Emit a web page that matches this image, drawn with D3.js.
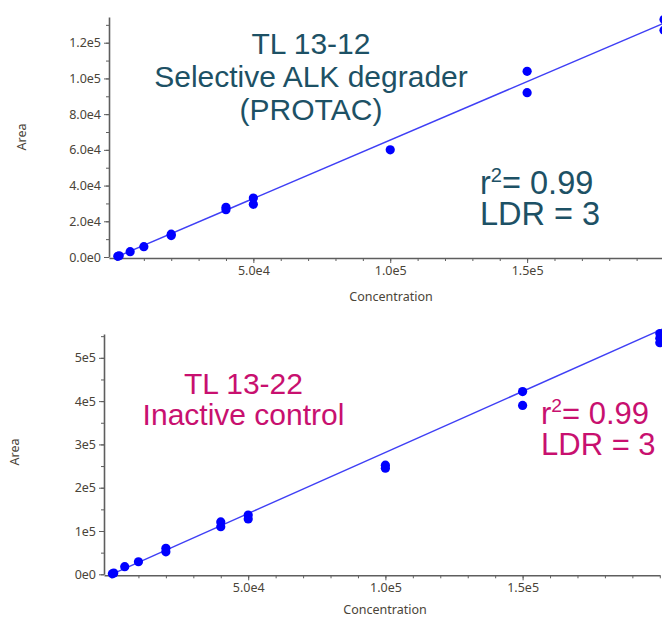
<!DOCTYPE html>
<html>
<head>
<meta charset="utf-8">
<script src="https://cdn.jsdelivr.net/npm/d3@7"></script>
<style>
  body { margin: 0; background: #fff; }
  svg { display: block; }
  .axis text { font-family: "Noto Sans", "Open Sans", sans-serif; font-size: 12.5px; fill: #4a4438; }
  .axis path, .axis line { stroke: #5e5e5e; }
  .axis-label { font-family: "Noto Sans", "Open Sans", sans-serif; font-size: 12.5px; fill: #4a4438; }
  .note { font-family: "Liberation Sans", Arial, sans-serif; }
</style>
</head>
<body>
<svg id="chart"></svg>
<script>
const chartSize = { width: 662, height: 619 };

// top panel: TL 13-12
const topConc = [500, 1000, 5000, 10000, 20000, 20000, 40000, 40000, 50000, 50000, 100000, 150000, 150000, 200000, 200000];
const topArea = [400, 700, 3000, 5800, 12000, 12800, 26500, 27800, 29500, 33000, 60000, 92000, 104000, 127000, 133000];
const topFit = [0.655, 0];
const topYTicks = [0, 20000, 40000, 60000, 80000, 100000, 120000];

// bottom panel: TL 13-22
const botConc = [500, 1000, 5000, 10000, 20000, 20000, 40000, 40000, 50000, 50000, 100000, 100000, 150000, 150000, 200000, 200000, 200000];
const botArea = [1000, 3000, 17500, 29000, 52000, 60000, 110000, 121000, 128000, 137000, 245000, 252000, 390000, 422000, 535000, 545000, 556000];
const botFit = [2.82, -500];
const botYTicks = [0, 100000, 200000, 300000, 400000, 500000];

const xTicks = [50000, 100000, 150000];

const expFormat = p => d => d3.format(`.${p}e`)(d).replace("e+", "e");

const panels = [
  {
    conc: topConc, area: topArea, fit: topFit,
    xDomain: [-2727, 200000], xRange: [109, 664],
    yDomain: [0, 134400], yRange: [257, 17],
    yTicks: topYTicks, yMinorStep: 10000, yFormat: expFormat(1),
    yLabel: [26, 137], xLabel: [391, 301],
    color: "#1d5165",
    title: ["TL 13-12", "Selective ALK degrader", "(PROTAC)"], titlePos: [311, 54, 33],
    stats: [480, 194, 31], statSize: 32.5
  },
  {
    conc: botConc, area: botArea, fit: botFit,
    xDomain: [-2550, 200000], xRange: [104, 659.8],
    yDomain: [0, 555000], yRange: [574.3, 334],
    yTicks: botYTicks, yMinorStep: 50000, yFormat: expFormat(0),
    yLabel: [19, 452], xLabel: [385, 614],
    color: "#c8106f",
    title: ["TL 13-22", "Inactive control"], titlePos: [243.5, 394, 31],
    stats: [541, 424, 31], statSize: 31
  }
];

const drawPanel = (svg, p) => {
  const x = d3.scaleLinear().domain(p.xDomain).range(p.xRange);
  const y = d3.scaleLinear().domain(p.yDomain).range(p.yRange);
  const g = svg.append("g");

  const xMinor = d3.range(0, p.xDomain[1] + 1, 10000);
  g.append("g")
    .attr("class", "axis")
    .attr("transform", `translate(0,${p.yRange[0] + 1})`)
    .call(d3.axisBottom(x).tickValues(xMinor).tickSize(3).tickSizeOuter(0).tickFormat(""))
    .call(a => a.select(".domain").attr("stroke-width", 1.6));
  g.append("g")
    .attr("class", "axis")
    .attr("transform", `translate(0,${p.yRange[0] + 1})`)
    .call(d3.axisBottom(x).tickValues(xTicks).tickSize(5).tickPadding(3).tickFormat(expFormat(1)))
    .call(a => a.select(".domain").remove());

  const yMinor = d3.range(0, p.yDomain[1], p.yMinorStep);
  g.append("g")
    .attr("class", "axis")
    .attr("transform", `translate(${p.xRange[0]},0)`)
    .call(d3.axisLeft(y).tickValues(yMinor).tickSize(3).tickSizeOuter(0).tickFormat(""))
    .call(a => a.select(".domain").attr("stroke-width", 1.6));
  g.append("g")
    .attr("class", "axis")
    .attr("transform", `translate(${p.xRange[0]},0)`)
    .call(d3.axisLeft(y).tickValues(p.yTicks).tickSize(5).tickPadding(3).tickFormat(p.yFormat))
    .call(a => a.select(".domain").remove());

  g.append("text")
    .attr("class", "axis-label")
    .attr("transform", `translate(${p.yLabel[0]},${p.yLabel[1]}) rotate(-90)`)
    .attr("text-anchor", "middle")
    .text("Area");
  g.append("text")
    .attr("class", "axis-label")
    .attr("x", p.xLabel[0])
    .attr("y", p.xLabel[1])
    .attr("text-anchor", "middle")
    .text("Concentration");

  const [slope, intercept] = p.fit;
  const line = d3.line().x(d => x(d)).y(d => y(slope * d + intercept));
  g.append("path")
    .attr("d", line([0, p.xDomain[1] * 1.02]))
    .attr("fill", "none")
    .attr("stroke", "#3f3ff5")
    .attr("stroke-width", 1.4);

  g.selectAll("circle")
    .data(d3.zip(p.conc, p.area))
    .enter()
    .append("circle")
    .attr("cx", d => x(d[0]))
    .attr("cy", d => y(d[1]))
    .attr("r", 4.6)
    .attr("fill", "#0000ff");

  // title block, one text with a line per tspan
  const [tx, ty, tGap] = p.titlePos;
  g.append("text")
    .attr("class", "note")
    .attr("y", ty)
    .attr("text-anchor", "middle")
    .attr("font-size", 30)
    .attr("fill", p.color)
    .selectAll("tspan")
    .data(p.title)
    .enter()
    .append("tspan")
    .attr("x", tx)
    .attr("dy", (d, i) => (i ? tGap : 0))
    .text(d => d);

  // r² and LDR block
  const [sx, sy, sGap] = p.stats;
  const s = p.statSize;
  const stat = g.append("text")
    .attr("class", "note")
    .attr("x", sx)
    .attr("y", sy)
    .attr("font-size", s)
    .attr("fill", p.color);
  stat.append("tspan").text("r");
  stat.append("tspan").attr("dy", -s * 0.38).attr("font-size", s * 0.62).text("2");
  stat.append("tspan").attr("dy", s * 0.38).text("= 0.99");
  stat.append("tspan").attr("x", sx).attr("dy", sGap).text("LDR = 3");
};

const svg = d3.select("#chart")
  .attr("width", chartSize.width)
  .attr("height", chartSize.height);

panels.forEach(p => drawPanel(svg, p));
</script>
</body>
</html>
